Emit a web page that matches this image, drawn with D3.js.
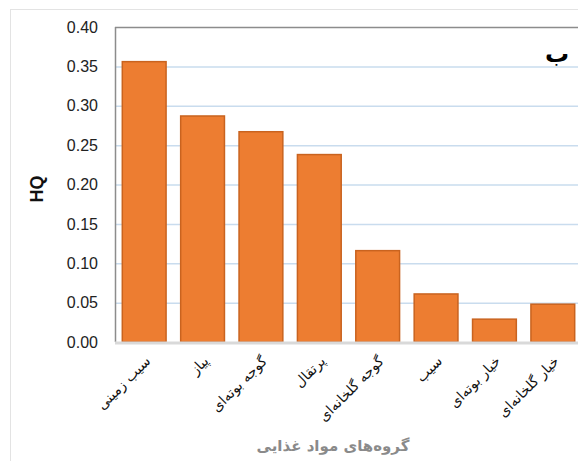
<!DOCTYPE html>
<html>
<head>
<meta charset="utf-8">
<script src="https://cdn.jsdelivr.net/npm/d3@7"></script>
<style>
  html, body { margin: 0; padding: 0; background: #fff; overflow: hidden; }
  svg { display: block; }
</style>
</head>
<body>
<svg id="chart" width="578" height="461"></svg>
<script>
// food groups (Persian) and their HQ values
const categories = ['سیب زمینی', 'پیاز', 'گوجه بوته‌ای', 'پرتقال', 'گوجه گلخانه‌ای', 'سیب', 'خیار بوته‌ای', 'خیار گلخانه‌ای'];
const hqValues = [0.356, 0.287, 0.267, 0.238, 0.116, 0.061, 0.029, 0.048];
const yTicks = [0, 0.05, 0.10, 0.15, 0.20, 0.25, 0.30, 0.35, 0.40];

const svg = d3.select('#chart');
const margin = {left: 115, top: 27, right: 582, bottom: 342};

// outer chart frame
svg.append('rect')
  .attr('x', 10.5).attr('y', 9.5)
  .attr('width', 600).attr('height', 500)
  .attr('fill', 'none').attr('stroke', '#e3e3e3');

const x = d3.scaleBand().domain(categories).range([margin.left, margin.right]).paddingInner(0.25).paddingOuter(0.125);
const y = d3.scaleLinear().domain([0, 0.4]).range([margin.bottom, margin.top]);

// gridlines
svg.append('g').selectAll('line')
  .data(yTicks.filter(d => d > 0 && d < 0.4))
  .join('line')
    .attr('x1', margin.left).attr('x2', margin.right)
    .attr('y1', d => y(d) + 0.5).attr('y2', d => y(d) + 0.5)
    .attr('stroke', '#c9dcee').attr('stroke-width', 1.5);

// plot area border (top and left)
svg.append('line')
  .attr('x1', margin.left).attr('x2', margin.right)
  .attr('y1', margin.top + 0.5).attr('y2', margin.top + 0.5)
  .attr('stroke', '#8c8c8c').attr('stroke-width', 1.5);
svg.append('line')
  .attr('x1', margin.left + 0.5).attr('x2', margin.left + 0.5)
  .attr('y1', margin.top).attr('y2', margin.bottom)
  .attr('stroke', '#8c8c8c').attr('stroke-width', 1.5);

// bars
svg.append('g').selectAll('rect')
  .data(categories)
  .join('rect')
    .attr('x', d => x(d))
    .attr('y', (d, i) => y(hqValues[i]))
    .attr('width', x.bandwidth())
    .attr('height', (d, i) => y(0) - y(hqValues[i]))
    .attr('fill', '#ed7d31')
    .attr('stroke', '#c9631f').attr('stroke-width', 1.5);

// bottom axis line
svg.append('line')
  .attr('x1', margin.left).attr('x2', margin.right)
  .attr('y1', margin.bottom + 1).attr('y2', margin.bottom + 1)
  .attr('stroke', '#d9d9d9').attr('stroke-width', 3);

// y axis
const yAxis = svg.append('g')
  .attr('transform', `translate(${margin.left},0)`)
  .call(d3.axisLeft(y).tickValues(yTicks).tickFormat(d3.format('.2f')).tickSize(0).tickPadding(17));
yAxis.select('.domain').remove();
yAxis.selectAll('text')
  .attr('font-family', 'Liberation Sans, Arial, sans-serif')
  .attr('font-size', 16).attr('fill', '#222');

// x axis labels rotated
svg.append('g').selectAll('text')
  .data(categories)
  .join('text')
    .attr('transform', d => `translate(${x(d) + x.bandwidth() / 2 + 7},${margin.bottom + 20}) rotate(-45)`)
    .attr('text-anchor', 'end')
    .attr('font-family', 'DejaVu Sans, sans-serif')
    .attr('font-size', 14).attr('fill', '#111')
    .text(d => d);

// axis titles
svg.append('text')
  .attr('transform', 'translate(43,189) rotate(-90)')
  .attr('text-anchor', 'middle')
  .attr('font-family', 'Liberation Sans, Arial, sans-serif')
  .attr('font-weight', 'bold').attr('font-size', 18).attr('fill', '#111')
  .text('HQ');

svg.append('text')
  .attr('x', 333).attr('y', 451)
  .attr('text-anchor', 'middle')
  .attr('font-family', 'DejaVu Sans, sans-serif')
  .attr('font-weight', 'bold').attr('font-size', 15).attr('fill', '#8a8a8a')
  .text('گروه‌های مواد غذایی');

// panel letter
svg.append('text')
  .attr('x', 557).attr('y', 62)
  .attr('text-anchor', 'middle')
  .attr('font-family', 'DejaVu Sans, sans-serif')
  .attr('font-weight', 'bold').attr('font-size', 24).attr('fill', '#000')
  .text('ب');
</script>
</body>
</html>
